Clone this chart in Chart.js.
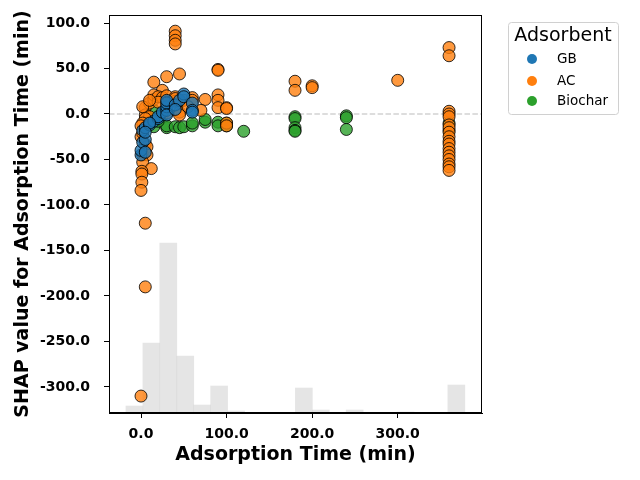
<!DOCTYPE html>
<html>
<head>
<meta charset="utf-8">
<script src="https://cdn.jsdelivr.net/npm/chart.js@4"></script>
<style>
  html, body { margin: 0; padding: 0; background: #fff; }
  #wrap { width: 640px; height: 480px; }
</style>
</head>
<body>
<div id="wrap"><canvas id="shap-chart" width="640" height="480"></canvas></div>
<script>
// Scatter data (adsorption time, SHAP value)
var gbX = [0, 0, 2, 5, 2, 5, 10, 15, 20, 20, 25, 30, 30, 30, 30, 30, 40, 45, 50, 50, 60, 60, 60, 10, 5, 40, 5];
var gbY = [-45, -40, -31, -28, -18, -15, -12, -8, -5, -3, 2, 4, 8, 12, 15, -1, 10, 15, 22, 19, 12, 4, 2, -10, -20, 5, -42];

var acX = [40, 40, 40, 40, 45, 30, 15, 25, 90, 90, 180, 180, 200, 200, 300, 360, 360,
    5, 10, 15, 15, 20, 25, 30, 30, 40, 40, 45, 45, 45, 50, 60, 60, 75, 70, 90, 90, 90, 100, 100, 100, 100,
    30, 5, 2, 10, 5, 2, 0, 40, 55, 20, 10,
    0, 2, 5, 7, 2, 7, 2, 12, 1, 1, 1, 0, 5, 5, 0,
    360, 360, 360, 360, 360, 360, 360, 360, 360, 360, 360, 360, 360, 360, 360, 360];
var acY = [91, 86, 81, 77, 44, 41, 35, 26, 49, 48, 36, 26, 31, 29, 37, 73, 64,
    7, 12, 16, 21, 19, 18, 20, 13, 19, 14, 13, 2, -1, 15, 18, 15, 16, 4, 21, 15, 7, 7, 6, -10, -13,
    1, -1, 8, -3, -5, -10, -13, 17, 8, 13, 15,
    -25, -21, -33, -36, -45, -45, -53, -60, -63, -66, -75, -84, -120, -190, -310,
    3, 0, -3, -12, -15, -20, -25, -30, -33, -38, -42, -46, -50, -55, -58, -62];

var bcX = [10, 15, 15, 20, 25, 30, 30, 40, 45, 50, 60, 60, 75, 75, 90, 90, 100, 100, 120,
    180, 180, 180, 180, 180, 240, 240, 240, 360, 360, 15, 20];
var bcY = [-5, -7, -14, -3, -1, -15, -13, -14, -15, -14, -13, -10, -9, -6, -9, -13, -10, -13, -19,
    -3, -5, -15, -18, -19, -2, -4, -17, -10, -18, 4, -8];

// Histogram of adsorption time (bin centres and counts)
var binCenters = [-7.7, 12.1, 31.9, 51.7, 71.5, 91.3, 111.1, 130.9, 150.7, 170.5,
    190.3, 210.1, 229.9, 249.7, 269.5, 289.3, 309.1, 328.9, 348.7, 368.5];
var binCounts = [7, 70, 170, 57, 8, 27, 2, 0, 0, 0, 25, 3, 0, 3, 0, 0, 1, 0, 0, 28];

var xTicks = [0, 100, 200, 300];
var yTicks = [-300, -250, -200, -150, -100, -50, 0, 50, 100];

var seriesNames = ['GB', 'AC', 'Biochar'];
var seriesColors = ['#1f77b4', '#ff7f0e', '#2ca02c'];
var seriesFill = ['rgba(31,119,180,0.8)', 'rgba(255,127,14,0.8)', 'rgba(44,160,44,0.8)'];

function toPoints(xs, ys) {
    return xs.map(function (x, i) { return { x: x, y: ys[i] }; });
}

function pointSet(label, xs, ys, fill, order) {
    return {
        type: 'scatter',
        label: label,
        data: toPoints(xs, ys),
        backgroundColor: fill,
        borderColor: 'rgba(0,0,0,0.8)',
        borderWidth: 1,
        pointRadius: 6,
        order: order
    };
}

var frameAndLegend = {
    id: 'frameAndLegend',
    beforeDatasetsDraw: function (chart) {
        // dashed zero line
        var ctx = chart.ctx, a = chart.chartArea;
        var y0 = chart.scales.y.getPixelForValue(0);
        ctx.save();
        ctx.strokeStyle = 'rgba(190,190,190,0.7)';
        ctx.lineWidth = 1.5;
        ctx.setLineDash([5.5, 2.4]);
        ctx.beginPath();
        ctx.moveTo(a.left, y0);
        ctx.lineTo(a.right, y0);
        ctx.stroke();
        ctx.restore();
    },
    afterDraw: function (chart) {
        var ctx = chart.ctx, a = chart.chartArea;
        ctx.save();
        ctx.strokeStyle = '#000';
        ctx.lineWidth = 1;
        ctx.strokeRect(a.left + 0.5, a.top + 0.5, a.right - a.left - 1, a.bottom - a.top - 1);

        // legend box
        var bx = 508.5, by = 22.5, bw = 110, bh = 92, r = 3;
        ctx.fillStyle = 'rgba(255,255,255,0.8)';
        ctx.strokeStyle = '#d0d0d0';
        ctx.beginPath();
        ctx.moveTo(bx + r, by);
        ctx.arcTo(bx + bw, by, bx + bw, by + bh, r);
        ctx.arcTo(bx + bw, by + bh, bx, by + bh, r);
        ctx.arcTo(bx, by + bh, bx, by, r);
        ctx.arcTo(bx, by, bx + bw, by, r);
        ctx.closePath();
        ctx.fill();
        ctx.stroke();

        ctx.fillStyle = '#000';
        ctx.textAlign = 'center';
        ctx.textBaseline = 'middle';
        ctx.font = '19px "DejaVu Sans"';
        ctx.fillText('Adsorbent', 563, 36);
        ctx.textAlign = 'left';
        ctx.font = '13.5px "DejaVu Sans"';
        var rows = [59, 81, 101];
        for (var i = 0; i < seriesNames.length; i++) {
            ctx.fillStyle = seriesColors[i];
            ctx.beginPath();
            ctx.arc(532, rows[i], 5, 0, Math.PI * 2);
            ctx.fill();
            ctx.fillStyle = '#000';
            ctx.fillText(seriesNames[i], 557, rows[i]);
        }
        ctx.restore();
    }
};

window.onload = function () {
    var ctx = document.getElementById('shap-chart').getContext('2d');
    var tickFont = { family: '"DejaVu Sans"', size: 14, weight: 'bold' };
    var titleFont = { family: '"DejaVu Sans"', size: 19, weight: 'bold' };
    new Chart(ctx, {
        type: 'scatter',
        data: {
            datasets: [
                pointSet('GB', gbX, gbY, seriesFill[0], 1),
                pointSet('AC', acX, acY, seriesFill[1], 2),
                pointSet('Biochar', bcX, bcY, seriesFill[2], 3),
                {
                    type: 'bar',
                    label: 'hist',
                    data: toPoints(binCenters, binCounts),
                    backgroundColor: 'rgba(211,211,211,0.6)',
                    borderWidth: 0,
                    barPercentage: 1,
                    categoryPercentage: 1,
                    yAxisID: 'y2',
                    order: 10
                }
            ]
        },
        options: {
            responsive: false,
            animation: false,
            layout: { padding: { top: 15, right: 158, left: 0, bottom: 0 } },
            plugins: { legend: { display: false }, tooltip: { enabled: false } },
            scales: {
                x: {
                    type: 'linear',
                    offset: false,
                    min: -37.4,
                    max: 398.5,
                    afterBuildTicks: function (s) { s.ticks = xTicks.map(function (v) { return { value: v }; }); },
                    afterFit: function (s) { s.height = 67; s.paddingLeft = 0; s.paddingRight = 0; },
                    grid: { display: true, offset: false, drawOnChartArea: false, drawTicks: true, tickLength: 5, color: '#000' },
                    border: { display: true, color: '#000', width: 1 },
                    ticks: {
                        color: '#000', font: tickFont, padding: 8, maxRotation: 0,
                        callback: function (v) { return v.toFixed(1); }
                    },
                    title: { display: true, text: 'Adsorption Time (min)', color: '#000', font: titleFont, padding: { top: 0, bottom: 14 } }
                },
                y: {
                    type: 'linear',
                    min: -328.6,
                    max: 108.8,
                    afterBuildTicks: function (s) { s.ticks = yTicks.map(function (v) { return { value: v }; }); },
                    afterFit: function (s) { s.width = 109; s.paddingTop = 0; s.paddingBottom = 0; },
                    grid: { display: true, drawOnChartArea: false, drawTicks: true, tickLength: 5, color: '#000' },
                    border: { display: true, color: '#000', width: 1 },
                    ticks: {
                        color: '#000', font: tickFont, padding: 14,
                        callback: function (v) { return v.toFixed(1); }
                    },
                    title: { display: true, text: 'SHAP value for Adsorption Time (min)', color: '#000', font: titleFont, padding: { top: 12, bottom: 0 } }
                },
                y2: {
                    type: 'linear',
                    display: false,
                    min: 0,
                    max: 398
                }
            }
        },
        plugins: [frameAndLegend]
    });
};
</script>
</body>
</html>
